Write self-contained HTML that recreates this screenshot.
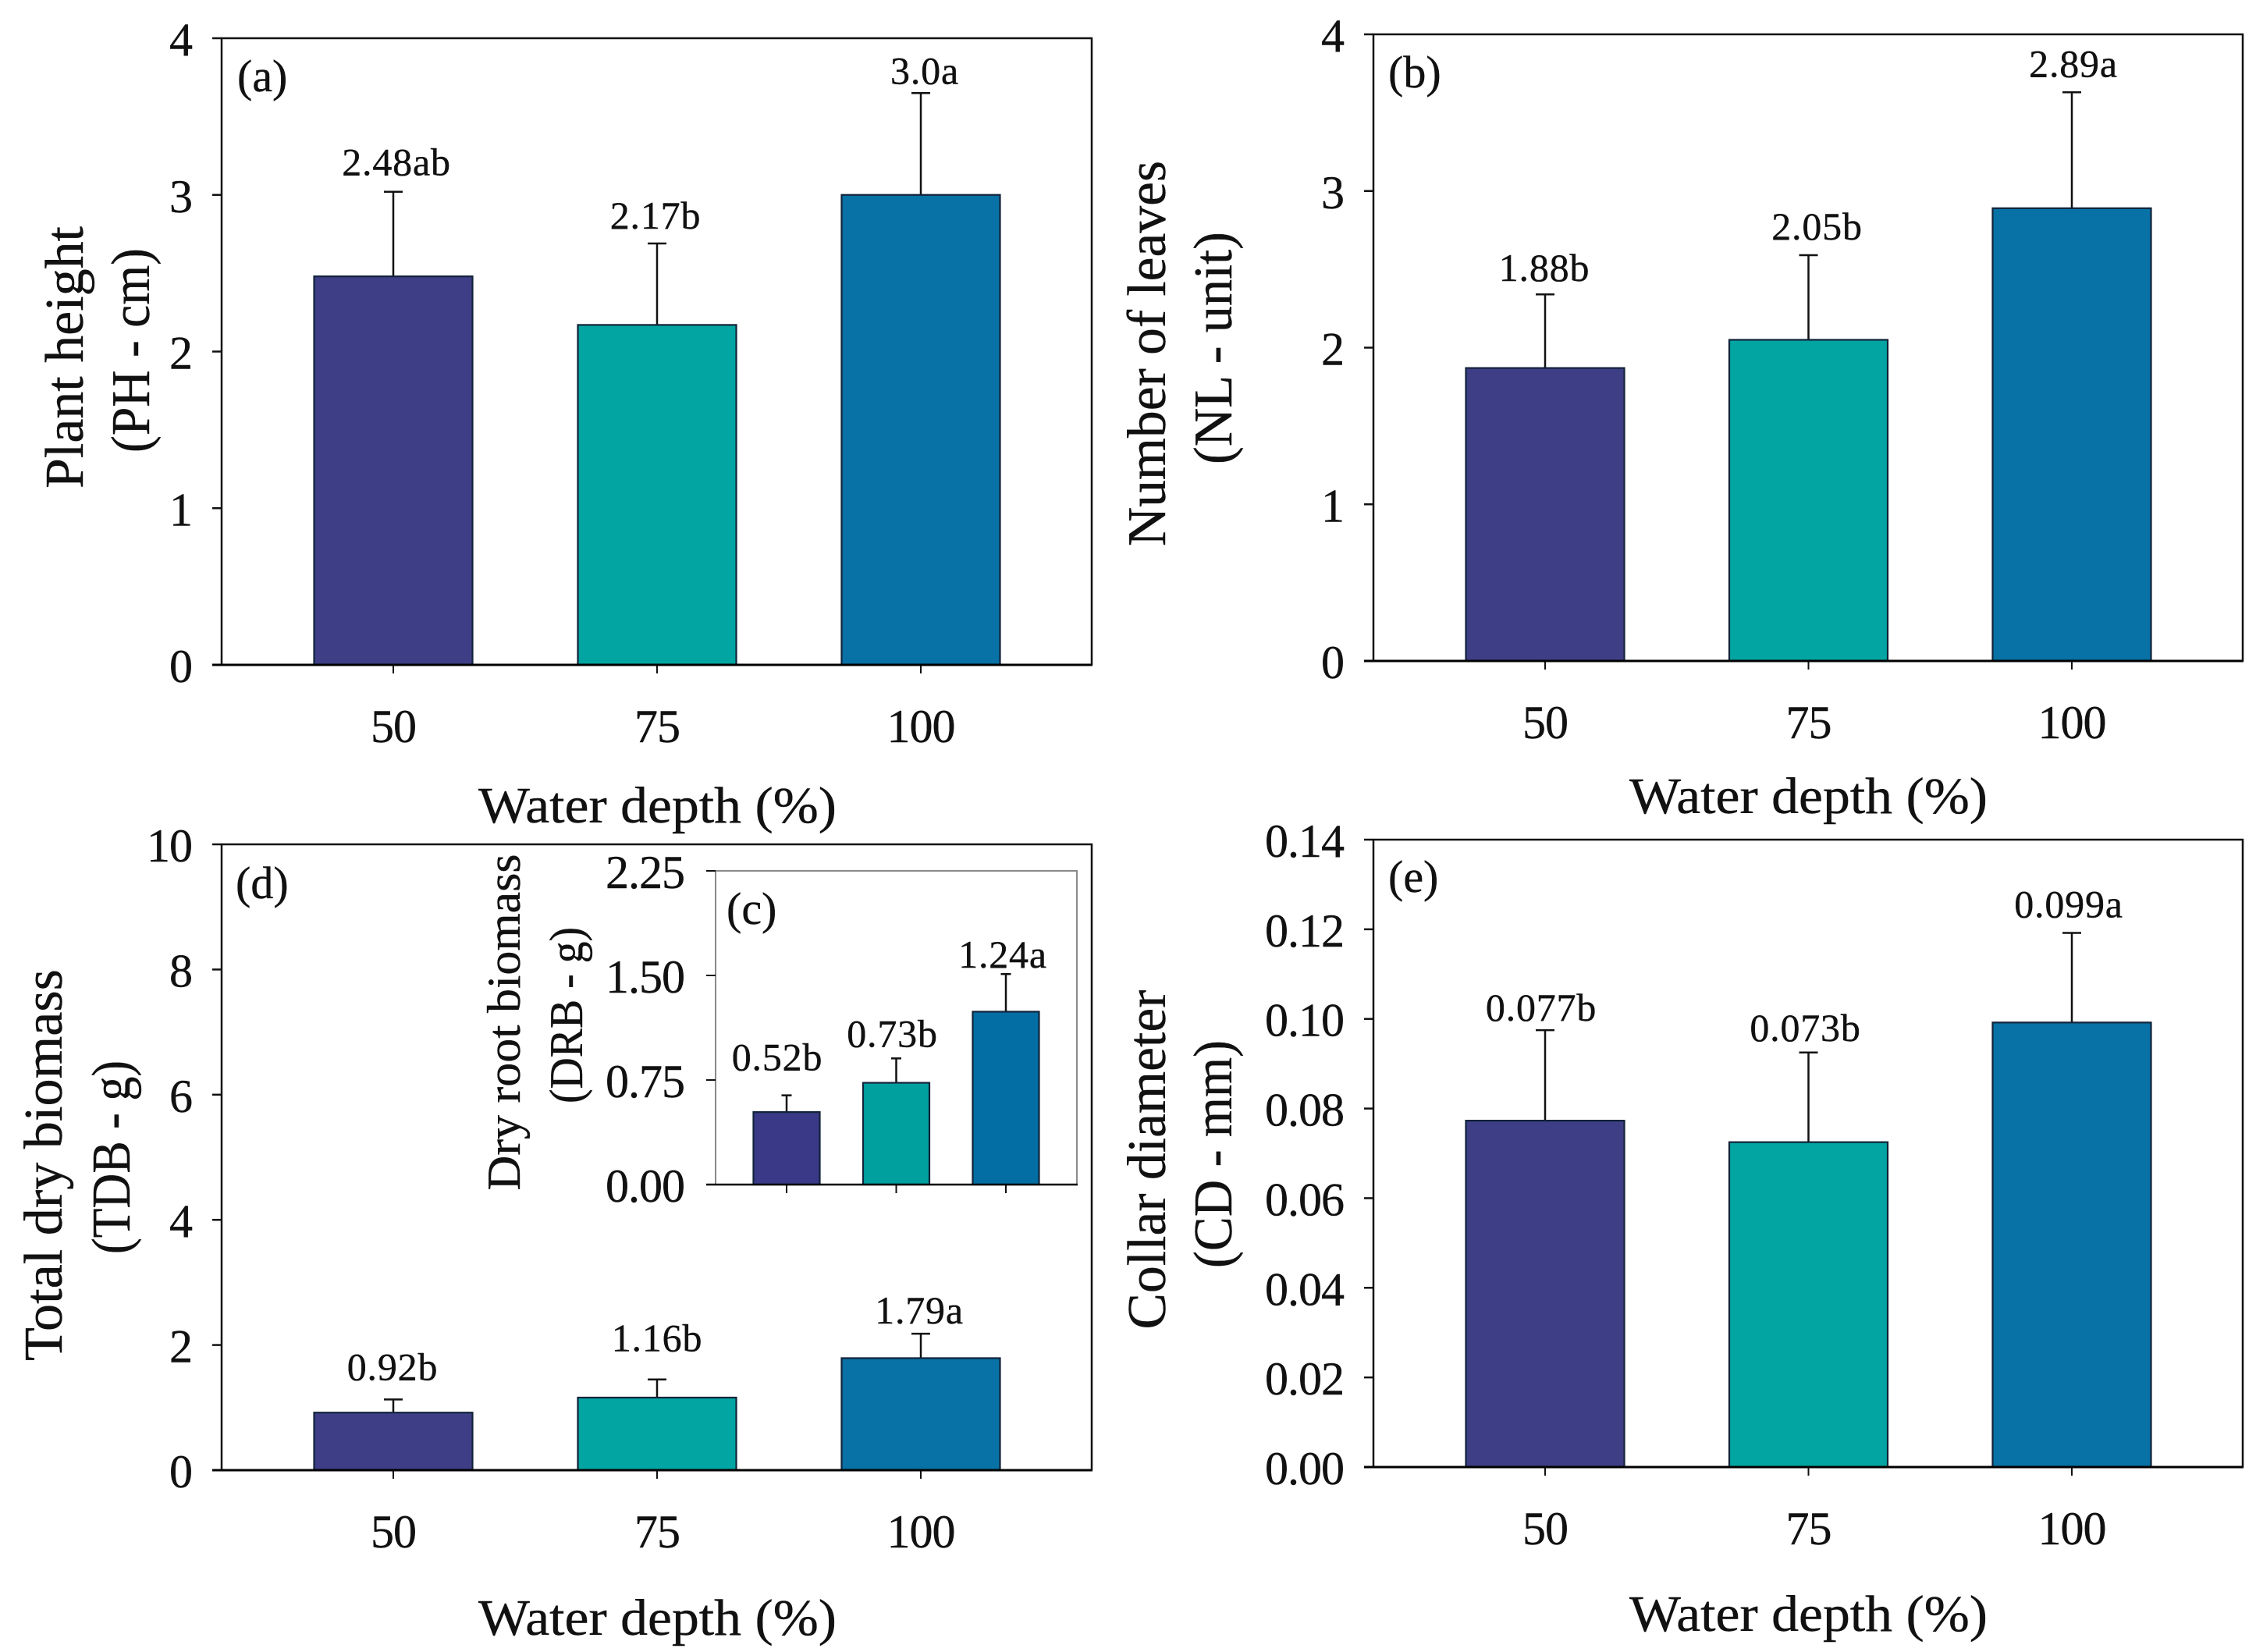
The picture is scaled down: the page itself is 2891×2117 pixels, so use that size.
<!DOCTYPE html>
<html lang="en">
<head>
<meta charset="utf-8">
<title>Plant growth vs water depth</title>
<style>
html,body{margin:0;padding:0;background:#fff;}
svg{display:block;}
text{font-family:"Liberation Serif",serif;fill:#111;stroke:#111;stroke-width:.4px;}
.title{font-size:70px;}
.xtitle{font-size:66px;}
.plabel{font-size:58px;}
</style>
</head>
<body>
<svg id="chart" xmlns="http://www.w3.org/2000/svg" width="2891" height="2117" viewBox="0 0 2891 2117">
<rect x="0" y="0" width="2891" height="2117" fill="#fff"/>

<text class="title" text-anchor="middle" textLength="336" lengthAdjust="spacingAndGlyphs" transform="translate(106 458) rotate(-90)">Plant height</text>
<text class="title" text-anchor="middle" textLength="262" lengthAdjust="spacingAndGlyphs" transform="translate(191 449) rotate(-90)">(PH - cm)</text>
<text class="xtitle" x="613" y="1054" textLength="459" lengthAdjust="spacingAndGlyphs">Water depth (%)</text>
<text class="plabel" x="304" y="117">(a)</text>

<text class="title" text-anchor="middle" textLength="494" lengthAdjust="spacingAndGlyphs" transform="translate(1493 453) rotate(-90)">Number of leaves</text>
<text class="title" text-anchor="middle" textLength="298" lengthAdjust="spacingAndGlyphs" transform="translate(1578 446) rotate(-90)">(NL - unit)</text>
<text class="xtitle" x="2088" y="1042" textLength="459" lengthAdjust="spacingAndGlyphs">Water depth (%)</text>
<text class="plabel" x="1779" y="112">(b)</text>

<text class="title" text-anchor="middle" textLength="502" lengthAdjust="spacingAndGlyphs" transform="translate(79 1493) rotate(-90)">Total dry biomass</text>
<text class="title" text-anchor="middle" textLength="248" lengthAdjust="spacingAndGlyphs" transform="translate(166 1483) rotate(-90)">(TDB - g)</text>
<text class="xtitle" x="613" y="2095" textLength="459" lengthAdjust="spacingAndGlyphs">Water depth (%)</text>
<text class="plabel" x="302" y="1151">(d)</text>

<text class="title" style="font-size:60px" text-anchor="middle" textLength="431" lengthAdjust="spacingAndGlyphs" transform="translate(666 1310) rotate(-90)">Dry root biomass</text>
<text class="title" style="font-size:60px" text-anchor="middle" textLength="226" lengthAdjust="spacingAndGlyphs" transform="translate(746 1301) rotate(-90)">(DRB - g)</text>
<text class="plabel" x="931" y="1184">(c)</text>

<text class="title" text-anchor="middle" textLength="435" lengthAdjust="spacingAndGlyphs" transform="translate(1493 1486) rotate(-90)">Collar diameter</text>
<text class="title" text-anchor="middle" textLength="292" lengthAdjust="spacingAndGlyphs" transform="translate(1578 1479) rotate(-90)">(CD - mm)</text>
<text class="xtitle" x="2088" y="2090" textLength="459" lengthAdjust="spacingAndGlyphs">Water depth (%)</text>
<text class="plabel" x="1779" y="1143">(e)</text>
</svg>

<script>
// Shared category data
const categories = ['50', '75', '100'];

// Panel (a) plant height
const heightValues = [2.48, 2.17, 3.0];
const heightErrors = [0.54, 0.52, 0.65];
const heightLabels = ['2.48ab', '2.17b', '3.0a'];
const heightTicks = ['0', '1', '2', '3', '4'];

// Panel (b) number of leaves
const leavesValues = [1.87, 2.05, 2.89];
const leavesErrors = [0.47, 0.54, 0.74];
const leavesLabels = ['1.88b', '2.05b', '2.89a'];
const leavesTicks = ['0', '1', '2', '3', '4'];

// Panel (d) total dry biomass
const totalValues = [0.92, 1.16, 1.79];
const totalErrors = [0.21, 0.29, 0.39];
const totalLabels = ['0.92b', '1.16b', '1.79a'];
const totalTicks = ['0', '2', '4', '6', '8', '10'];

// Panel (c) dry root biomass (inset)
const rootValues = [0.52, 0.73, 1.24];
const rootErrors = [0.12, 0.175, 0.27];
const rootLabels = ['0.52b', '0.73b', '1.24a'];
const rootTicks = ['0.00', '0.75', '1.50', '2.25'];

// Panel (e) collar diameter
const collarValues = [0.0773, 0.0725, 0.0992];
const collarErrors = [0.0202, 0.02, 0.02];
const collarLabels = ['0.077b', '0.073b', '0.099a'];
const collarTicks = ['0.00', '0.02', '0.04', '0.06', '0.08', '0.10', '0.12', '0.14'];

const barColors = ['#3e3e87', '#02a5a1', '#0871a5'];
const insetColors = ['#393987', '#00a09f', '#026ea3'];
const NS = 'http://www.w3.org/2000/svg';
const chart = document.getElementById('chart');

function make(parent, tag, props) {
  const el = document.createElementNS(NS, tag);
  for (const k in props) el.setAttribute(k, props[k]);
  parent.appendChild(el);
  return el;
}

function drawPanel(p) {
  const g = make(chart, 'g', {});
  
  

  const yMax = parseFloat(p.ticks[p.ticks.length - 1]);
  const yScale = v => p.bottom - (v / yMax) * (p.bottom - p.top);
  const step = (p.lastCenter - p.firstCenter) / (categories.length - 1);
  const xScale = i => p.firstCenter + i * step;

  // Frame (top and right)
  const frame = make(g, 'path', {
    d: `M${p.left} ${p.bottom}V${p.top}H${p.right}V${p.bottom}`,
    fill: 'none', stroke: p.frameColor, 'stroke-width': p.frameWidth
  });
  
  

  // Y ticks
  p.ticks.forEach(t => {
    const y = yScale(parseFloat(t));
    const tick = make(g, 'line', {
      x1: p.left - 12, x2: p.left, y1: y, y2: y, stroke: '#111', 'stroke-width': p.inset ? 2 : 2.5
    });
    
    
    const label = make(g, 'text', {
      x: p.left - p.labelGap, y: y + 22, 'text-anchor': 'end', 'font-size': 60, 'letter-spacing': -1
    });
    
    
    label.textContent = t;
  });

  // Bars, error bars, labels, x ticks
  categories.forEach((c, i) => {
    const cx = xScale(i);
    const top = yScale(p.values[i]);
    const wTop = yScale(p.values[i] + p.errors[i]);

    const stem = make(g, 'line', {
      x1: cx, x2: cx, y1: top, y2: wTop, stroke: '#111', 'stroke-width': 2.5
    });
    
    
    const cap = make(g, 'line', {
      x1: cx - p.capWidth / 2, x2: cx + p.capWidth / 2, y1: wTop, y2: wTop, stroke: '#111', 'stroke-width': 2.5
    });
    
    

    const bar = make(g, 'rect', {
      x: cx - p.barWidth / 2, y: top, width: p.barWidth, height: p.bottom - top,
      fill: p.colors[i], stroke: '#12233a', 'stroke-width': 2.2
    });
    
    

    const vl = make(g, 'text', {
      x: cx + p.labelDx[i], y: wTop - p.labelGaps[i], 'text-anchor': 'middle',
      'font-size': 50, 'letter-spacing': 0.8
    });
    
    
    vl.textContent = p.labels[i];

    const xt = make(g, 'line', {
      x1: cx, x2: cx, y1: p.bottom, y2: p.bottom + 11, stroke: '#111', 'stroke-width': 2
    });
    
    

    if (!p.inset) {
      const xl = make(g, 'text', {
        x: cx, y: p.bottom + 99, 'text-anchor': 'middle', 'font-size': 60, 'letter-spacing': -1
      });
      
      
      xl.textContent = c;
    }
  });

  // Baseline
  const axis = make(g, 'line', {
    x1: p.left - 12, x2: p.right + 1, y1: p.bottom, y2: p.bottom, stroke: '#000', 'stroke-width': p.inset ? 2.5 : 3
  });
  
  
}

const mainGeom = { frameColor: '#111', frameWidth: 2.5, barWidth: 203, capWidth: 24, labelGap: 38, colors: barColors, inset: false };

drawPanel({ ...mainGeom, id: 'a', left: 284, right: 1399, top: 49, bottom: 852, firstCenter: 504, lastCenter: 1180,
  values: heightValues, errors: heightErrors, labels: heightLabels, ticks: heightTicks,
  labelDx: [4, -2, 5], labelGaps: [21, 19, 12] });
drawPanel({ ...mainGeom, id: 'b', left: 1760, right: 2874, top: 44, bottom: 847, firstCenter: 1980, lastCenter: 2655,
  values: leavesValues, errors: leavesErrors, labels: leavesLabels, ticks: leavesTicks,
  labelDx: [-1, 11, 2], labelGaps: [17, 20, 20] });
drawPanel({ ...mainGeom, id: 'd', left: 284, right: 1399, top: 1082, bottom: 1884, firstCenter: 504, lastCenter: 1180,
  values: totalValues, errors: totalErrors, labels: totalLabels, ticks: totalTicks,
  labelDx: [-1, 0, -2], labelGaps: [25, 36, 13] });
drawPanel({ id: 'c', inset: true, frameColor: '#8a8a8a', frameWidth: 2, barWidth: 85, capWidth: 13, labelGap: 40, colors: insetColors,
  left: 917, right: 1380, top: 1116, bottom: 1518, firstCenter: 1008, lastCenter: 1289,
  values: rootValues, errors: rootErrors, labels: rootLabels, ticks: rootTicks,
  labelDx: [-12, -5, -4], labelGaps: [32, 15, 8] });
drawPanel({ ...mainGeom, id: 'e', left: 1760, right: 2874, top: 1076, bottom: 1880, firstCenter: 1980, lastCenter: 2655,
  values: collarValues, errors: collarErrors, labels: collarLabels, ticks: collarTicks,
  labelDx: [-5, -4, -4], labelGaps: [12, 15, 20] });
</script>
</body>
</html>
